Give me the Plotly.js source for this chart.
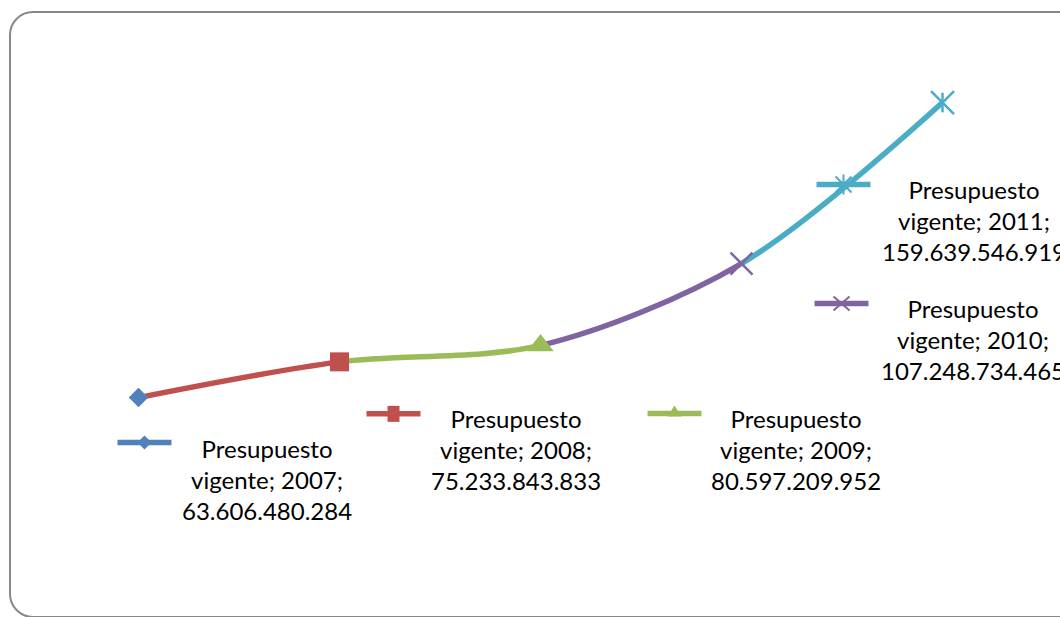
<!DOCTYPE html>
<html>
<head>
<meta charset="utf-8">
<script src="https://cdn.plot.ly/plotly-3.0.1.min.js"></script>
<style>
  html, body { margin: 0; padding: 0; background: #fff; }
  #wrap { position: relative; width: 1060px; height: 617px; overflow: hidden; }
  #chart { position: absolute; left: 0; top: 0; width: 1060px; height: 617px; }
  #frame { position: absolute; left: 9px; top: 11px; width: 1100px; height: 607px;
           border: 2px solid #888888; border-radius: 24px; pointer-events: none; box-sizing: border-box; }
</style>
</head>
<body>
<div id="wrap">
  <div id="chart"></div>
  <div id="frame"></div>
</div>
<script>
// ---- data ----
const seriesName = "Presupuesto vigente";
const years = [2007, 2008, 2009, 2010, 2011];
const values = [63606480284, 75233843833, 80597209952, 107248734465, 159639546919];
const valueLabels = ["63.606.480.284", "75.233.843.833", "80.597.209.952", "107.248.734.465", "159.639.546.919"];

// ---- styles ----
const colors = ["#4F81BD", "#C0504D", "#9BBB59", "#8064A2", "#4BACC6"];
const symbols = ["diamond", "square", "triangle-up", "x-thin-open", "x-thin-open"];
const sizes = [15, 19, 23, 22, 23];
const lineW = [0, 0, 0, 2.5, 2.5];
const LW = 5.5;
const fontFam = "Lato, 'Open Sans', sans-serif";
const fontSize = 24;

// label placement (pixel offsets from each point; y positive = up)
const labelShift = [[128, -82], [176, -88], [255, -104], [231, -76], [31, -118]];
const keyShift = [[6, -45], [54, -52], [134, -68], [100, -40], [-99, -82]];

const xMin = years[0] - 0.5, xMax = years[years.length - 1] + 0.5;
const span = xMax - xMin;
const nSeg = years.length - 1;
const markAxis = "x" + (nSeg + 1);          // full-width axis for markers/labels, drawn last

const traces = [];
const layout = {
  width: 1060, height: 617,
  margin: {l: 38, r: 17, t: 40, b: 24},
  paper_bgcolor: "rgba(0,0,0,0)", plot_bgcolor: "rgba(0,0,0,0)",
  showlegend: false,
  yaxis: {range: [0, 180e9], domain: [0, 1], visible: false, fixedrange: true},
  annotations: [], shapes: []
};
layout["xaxis" + (nSeg + 1)] = {range: [xMin, xMax], domain: [0, 1], anchor: "y", visible: false, fixedrange: true};

// coloured smooth segments: the whole series drawn on per-segment sub-axes (clipped to that span)
for (let i = 1; i <= nSeg; i++) {
  const axName = i === 1 ? "xaxis" : "xaxis" + i;
  layout[axName] = {
    range: [years[i - 1], years[i]],
    domain: [(years[i - 1] - xMin) / span, (years[i] - xMin) / span],
    anchor: "y", visible: false, fixedrange: true
  };
  traces.push({
    x: years, y: values, xaxis: i === 1 ? "x" : "x" + i, yaxis: "y",
    mode: "lines", type: "scatter", name: seriesName,
    line: {color: colors[i], width: LW, shape: "spline", smoothing: 0.9, simplify: false},
    hoverinfo: "skip"
  });
}

// markers
traces.push({
  x: years, y: values, xaxis: markAxis, yaxis: "y", type: "scatter", mode: "markers", name: seriesName,
  cliponaxis: false,
  marker: {symbol: symbols, color: colors, size: sizes, opacity: 1,
           line: {color: colors, width: lineW}}
});
// vertical stroke of the star marker for last point
traces.push({
  x: [years[4]], y: [values[4]], xaxis: markAxis, yaxis: "y", type: "scatter", mode: "markers", cliponaxis: false,
  marker: {symbol: "line-ns-open", size: 14, opacity: 1, color: colors[4], line: {color: colors[4], width: 2.5}}
});

// data labels with legend keys
function keyPath(i) {
  const [kx, ky] = keyShift[i];
  const p = (pts) => "M" + pts.map(q => (q[0] + kx) + "," + (q[1] + ky)).join(" L") + " Z";
  if (i === 0) return p([[0, 7], [7, 0], [0, -7], [-7, 0]]);
  if (i === 1) return p([[-6, 8], [6, 8], [6, -8], [-6, -8]]);
  if (i === 2) return p([[0, 8], [7, -3], [-7, -3]]);
  if (i === 3) return `M${kx - 8},${ky - 7} L${kx + 8},${ky + 7} M${kx - 8},${ky + 7} L${kx + 8},${ky - 7}`;
  return `M${kx - 8},${ky - 8} L${kx + 8},${ky + 8} M${kx - 8},${ky + 8} L${kx + 8},${ky - 8} M${kx},${ky - 10} L${kx},${ky + 10}`;
}

for (let i = 0; i < years.length; i++) {
  const [kx, ky] = keyShift[i];
  layout.shapes.push({
    type: "line", xref: markAxis, yref: "y", xsizemode: "pixel", ysizemode: "pixel",
    xanchor: years[i], yanchor: values[i],
    x0: kx - 27, x1: kx + 27, y0: ky, y1: ky,
    line: {color: colors[i], width: LW}
  });
  const open = i >= 3;
  layout.shapes.push({
    type: "path", xref: markAxis, yref: "y", xsizemode: "pixel", ysizemode: "pixel",
    xanchor: years[i], yanchor: values[i], path: keyPath(i),
    fillcolor: open ? "rgba(0,0,0,0)" : colors[i],
    line: {color: colors[i], width: open ? 2 : 0}
  });
  layout.annotations.push({
    x: years[i], y: values[i], xref: markAxis, yref: "y",
    xshift: labelShift[i][0], yshift: labelShift[i][1],
    showarrow: false, align: "center",
    text: "Presupuesto<br>vigente; " + years[i] + ";<br>" + valueLabels[i],
    font: {family: fontFam, size: fontSize, color: "#000000"}
  });
}

Plotly.newPlot("chart", traces, layout, {displayModeBar: false, staticPlot: true});
</script>
</body>
</html>
